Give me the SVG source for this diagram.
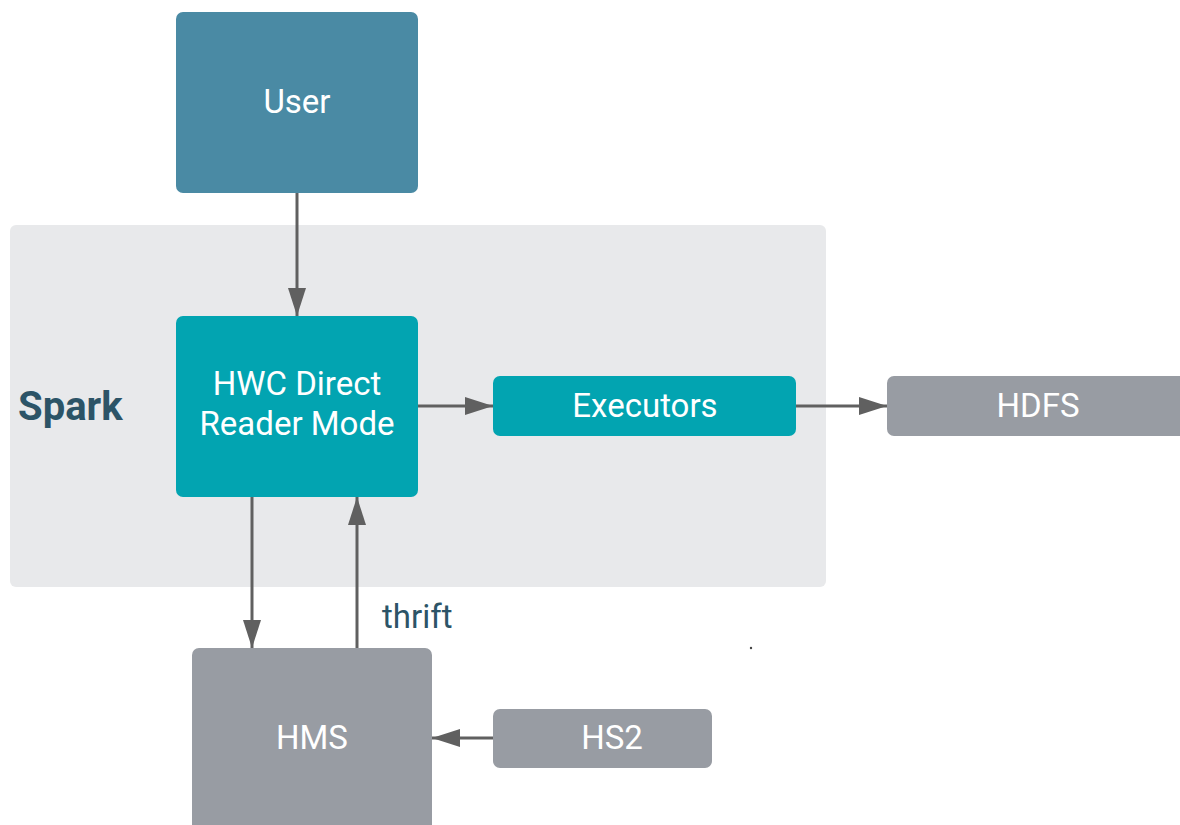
<svg xmlns="http://www.w3.org/2000/svg" width="1180" height="825" viewBox="0 0 1180 825">
<style>
.lbl{font-family:Roboto,"Liberation Sans",sans-serif;font-size:33px;fill:#ffffff;text-anchor:middle}
.dark{font-family:Roboto,"Liberation Sans",sans-serif;fill:#2c5467}
.con{stroke:#606060;stroke-width:3;fill:none}
</style>
<defs>
<marker id="ah" markerWidth="28" markerHeight="18" refX="28" refY="9" orient="auto" markerUnits="userSpaceOnUse">
<path d="M0,0 L28,9 L0,18 Z" fill="#606060"/>
</marker>
</defs>
<rect width="1180" height="825" fill="#ffffff"/>
<g id="spark">
<rect x="10" y="225" width="816" height="362" rx="6" fill="#e8e9eb"/>
<text class="dark" x="18" y="420" font-size="40" font-weight="bold">Spark</text>
</g>
<g id="connectors">
<line class="con" x1="297" y1="193" x2="297" y2="316" marker-end="url(#ah)"/>
<line class="con" x1="418" y1="406" x2="493" y2="406" marker-end="url(#ah)"/>
<line class="con" x1="796" y1="406" x2="887" y2="406" marker-end="url(#ah)"/>
<line class="con" x1="252" y1="497" x2="252" y2="648" marker-end="url(#ah)"/>
<line class="con" x1="357" y1="648" x2="357" y2="497" marker-end="url(#ah)"/>
<line class="con" x1="493" y1="738" x2="432" y2="738" marker-end="url(#ah)"/>
<text class="dark" x="382" y="628" font-size="33">thrift</text>
</g>
<g id="user">
<rect x="176" y="12" width="242" height="181" rx="7" fill="#4a8aa4"/>
<text class="lbl" x="297" y="113">User</text>
</g>
<g id="hwc">
<rect x="176" y="316" width="242" height="181" rx="7" fill="#02a4b1"/>
<text class="lbl" x="297" y="395">HWC Direct</text>
<text class="lbl" x="297" y="435">Reader Mode</text>
</g>
<g id="executors">
<rect x="493" y="376" width="303" height="60" rx="7" fill="#02a4b1"/>
<text class="lbl" x="645" y="417">Executors</text>
</g>
<g id="hdfs">
<rect x="887" y="376" width="303" height="60" rx="7" fill="#989ca3"/>
<text class="lbl" x="1038" y="417">HDFS</text>
</g>
<g id="hms">
<rect x="192" y="648" width="240" height="190" rx="7" fill="#989ca3"/>
<text class="lbl" x="312" y="749">HMS</text>
</g>
<g id="hs2">
<rect x="493" y="709" width="219" height="59" rx="7" fill="#989ca3"/>
<text class="lbl" x="612" y="749">HS2</text>
</g>
<circle cx="751" cy="648" r="1.2" fill="#444444"/>
</svg>
